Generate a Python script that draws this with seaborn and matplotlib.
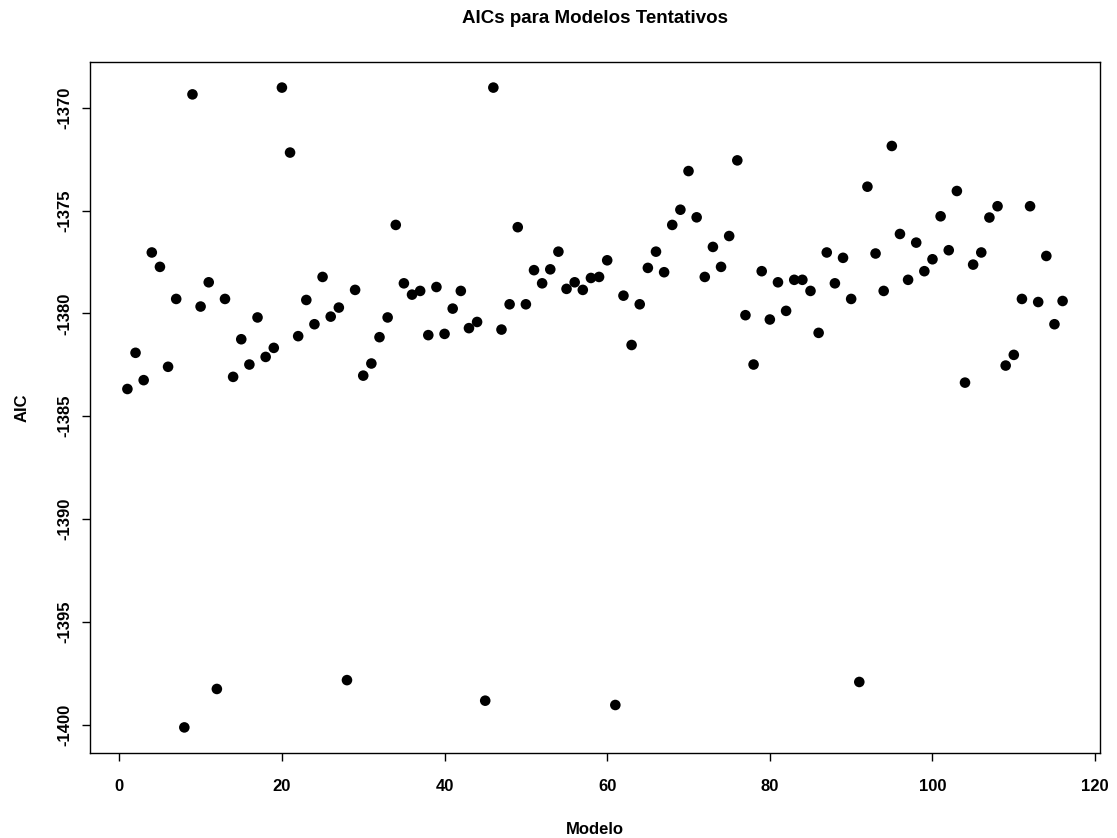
import matplotlib
matplotlib.use("Agg")
import matplotlib.pyplot as plt
import seaborn as sns
import pandas as pd
import numpy as np

modelo = list(range(1, 117))
aic = [
    -1383.68, -1381.92, -1383.25, -1377.04, -1377.74, -1382.60, -1379.30, -1400.14, -1369.35, -1379.67,  # 1-10
    -1378.49, -1398.27, -1379.30, -1383.09, -1381.26, -1382.49, -1380.20, -1382.12, -1381.68, -1369.02,  # 11-20
    -1372.18, -1381.11, -1379.35, -1380.53, -1378.23, -1380.16, -1379.72, -1397.84, -1378.86, -1383.03,  # 21-30
    -1382.44, -1381.16, -1380.20, -1375.70, -1378.54, -1379.09, -1378.91, -1381.06, -1378.72, -1381.00,  # 31-40
    -1379.77, -1378.91, -1380.72, -1380.42, -1398.84, -1369.02, -1380.79, -1379.56, -1375.81, -1379.56,  # 41-50
    -1377.90, -1378.54, -1377.86, -1377.00, -1378.81, -1378.49, -1378.86, -1378.28, -1378.23, -1377.42,  # 51-60
    -1399.05, -1379.14, -1381.54, -1379.56, -1377.79, -1377.00, -1378.00, -1375.70, -1374.96, -1373.08,  # 61-70
    -1375.33, -1378.23, -1376.77, -1377.74, -1376.24, -1372.56, -1380.09, -1382.49, -1377.95, -1380.30,  # 71-80
    -1378.49, -1379.88, -1378.37, -1378.37, -1378.91, -1380.95, -1377.04, -1378.54, -1377.30, -1379.30,  # 81-90
    -1397.93, -1373.84, -1377.09, -1378.91, -1371.86, -1376.14, -1378.37, -1376.56, -1377.95, -1377.37,  # 91-100
    -1375.28, -1376.93, -1374.05, -1383.37, -1377.63, -1377.04, -1375.34, -1374.79, -1382.54, -1382.02,  # 101-110
    -1379.30, -1374.79, -1379.45, -1377.21, -1380.53, -1379.40,                                          # 111-116
]
xticks = [0, 20, 40, 60, 80, 100, 120]
yticks = [-1400, -1395, -1390, -1385, -1380, -1375, -1370]

df = pd.DataFrame({"Modelo": modelo, "AIC": aic})

sns.set_theme(style="ticks")
plt.rcParams["font.family"] = ["Liberation Sans", "DejaVu Sans"]
plt.rcParams["text.color"] = "black"
plt.rcParams["axes.labelcolor"] = "black"
plt.rcParams["xtick.color"] = "black"
plt.rcParams["ytick.color"] = "black"

fig = plt.figure(figsize=(11.17, 8.38), dpi=100)
ax = fig.add_axes([90 / 1117, 1 - 753 / 838, 1010 / 1117, 691 / 838])

sns.scatterplot(data=df, x="Modelo", y="AIC", ax=ax, color="black",
                s=58, edgecolor="none", linewidth=0)

# R-style 4% padding
xr = max(modelo) - min(modelo)
yr = max(aic) - min(aic)
ax.set_xlim(min(modelo) - 0.04 * xr, max(modelo) + 0.04 * xr)
ax.set_ylim(min(aic) - 0.04 * yr, max(aic) + 0.04 * yr)

ax.set_xticks(xticks)
ax.set_yticks(yticks)
ax.set_xticklabels([str(t) for t in xticks], fontweight="bold", fontsize=12, color="black")
ax.set_yticklabels([str(t) for t in yticks], fontweight="bold", fontsize=12, color="black",
                   rotation=90, va="center")
ax.tick_params(axis="both", direction="out", length=6, width=1, color="black",
               labelcolor="black")
ax.tick_params(axis="x", pad=13)
ax.tick_params(axis="y", pad=7)

for sp in ax.spines.values():
    sp.set_visible(True)
    sp.set_color("black")
    sp.set_linewidth(1)

ax.set_xlabel("Modelo", fontweight="bold", fontsize=12, va="top", color="black")
ax.set_ylabel("AIC", fontweight="bold", fontsize=12, color="black")
ax.xaxis.set_label_coords(0.5, -0.0999)
ax.yaxis.set_label_coords(-0.06, 0.5)

ax.set_title("AICs para Modelos Tentativos", fontweight="bold", fontsize=13.5, pad=28,
             color="black")

fig.savefig("out.png", dpi=100, facecolor="white")
